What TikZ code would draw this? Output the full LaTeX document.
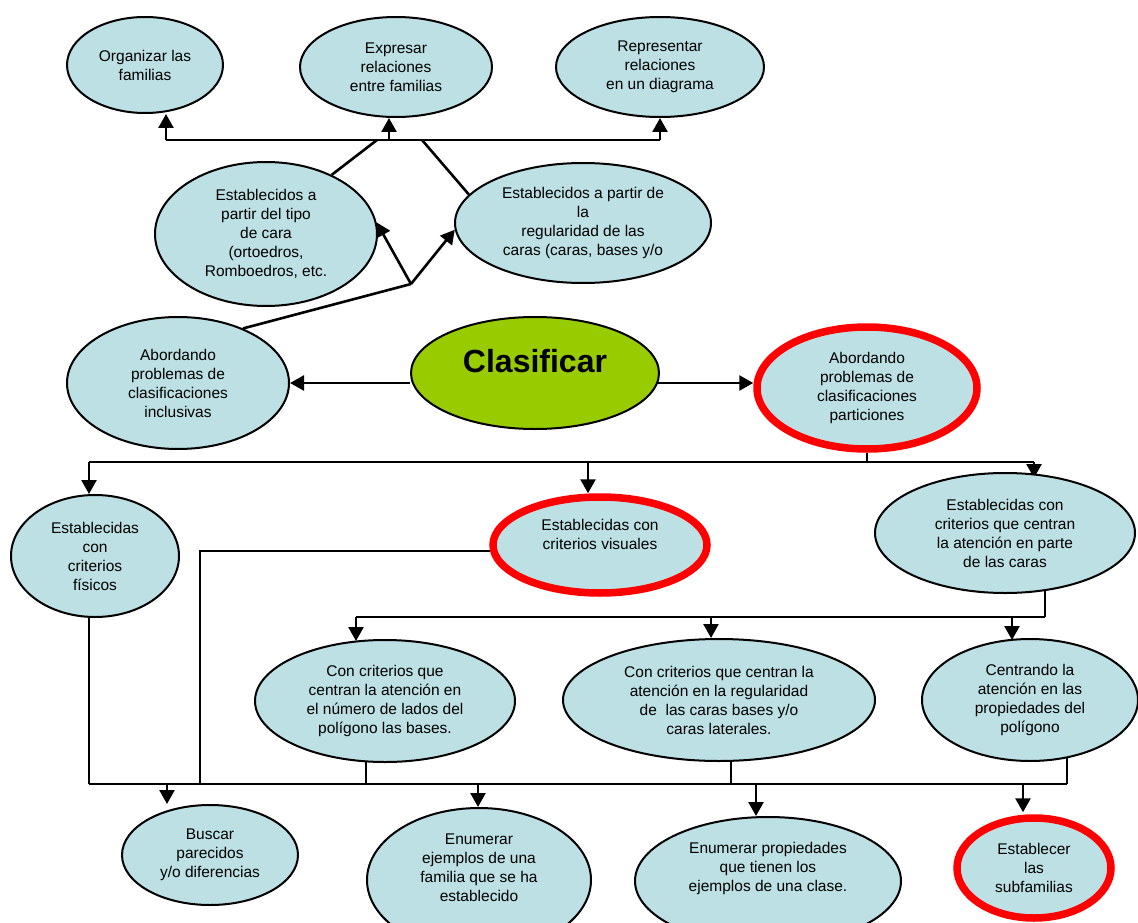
\documentclass[tikz,border=0pt]{standalone}
\usepackage{fontspec}
\setmainfont{Liberation Sans}
\usetikzlibrary{shapes.geometric,arrows.meta,backgrounds}
\definecolor{lblue}{RGB}{188,224,227}
\definecolor{lgreen}{RGB}{153,204,0}
\definecolor{rred}{RGB}{255,0,0}
\newcommand{\upbox}[2]{\raisebox{#1}[0pt][0pt]{\begin{tabular}{@{}c@{}}#2\end{tabular}}}
\begin{document}
\begin{tikzpicture}[x=1pt,y=-1pt,
  oval/.style={ellipse,draw=black,line width=2pt,fill=lblue,inner sep=0pt,align=center,
     font=\fontsize{15.5}{19}\selectfont},
  redoval/.style={oval,draw=rred,line width=7.5pt},
  conn/.style={line width=2.6pt,black},
  arr/.style={conn,-{Triangle[length=14pt,width=15pt]}},
  bigtxt/.style={font=\fontsize{32}{36}\selectfont\bfseries}]
\useasboundingbox (0,0) rectangle (1138,923);
% top row
\node[oval,minimum width=156pt,minimum height=96pt] (org) at (145,65) {Organizar las\\familias};
\node[oval,minimum width=192pt,minimum height=100pt] (exp) at (396,67) {Expresar\\relaciones\\entre familias};
\node[oval,minimum width=208pt,minimum height=100pt] (rep) at (660,67) {Representar\\relaciones\\en un diagrama};
% second row
\node[oval,minimum width=222pt,minimum height=144pt] (tipo) at (266,234) {Establecidos a\\partir del tipo\\de cara\\(ortoedros,\\Romboedros, etc.};
\node[oval,minimum width=256pt,minimum height=120pt] (reg) at (583,223) {Establecidos a partir de\\la\\regularidad de las\\caras (caras, bases y/o};
% middle row
\node[oval,minimum width=222pt,minimum height=132pt] (inc) at (178,383) {Abordando\\problemas de\\clasificaciones\\inclusivas};
\node[oval,fill=lgreen,minimum width=248pt,minimum height=112pt,bigtxt] (clas) at (535,373) {\raisebox{1pt}[0pt][0pt]{Clasificar}};
\node[redoval,minimum width=220pt,minimum height=122pt] (part) at (867,388) {Abordando\\problemas de\\clasificaciones\\particiones};
% third row
\node[oval,minimum width=168pt,minimum height=122pt] (fis) at (95,556) {Establecidas\\con\\criterios\\físicos};
\node[redoval,minimum width=214pt,minimum height=96pt] (vis) at (600,545) {\upbox{5pt}{Establecidas con\\criterios visuales}};
\node[oval,minimum width=260pt,minimum height=120pt] (caras) at (1005,533) {Establecidas con\\criterios que centran\\la atención en parte\\de las caras};
% fourth row
\node[oval,minimum width=260pt,minimum height=122pt] (lados) at (385,701) {Con criterios que\\centran la atención en\\el número de lados del\\polígono las bases.};
\node[oval,minimum width=312pt,minimum height=122pt] (regl) at (719,700) {Con criterios que centran la\\atención en la regularidad\\de\ \ las caras bases y/o\\caras laterales.};
\node[oval,minimum width=216pt,minimum height=122pt] (cent) at (1030,700) {Centrando la\\atención en las\\propiedades del\\polígono};
% bottom row
\node[oval,minimum width=176pt,minimum height=100pt] (busc) at (210,855) {Buscar\\parecidos\\y/o diferencias};
\node[oval,minimum width=224pt,minimum height=144pt] (enum1) at (479,880) {\upbox{7pt}{Enumerar\\ejemplos de una\\familia que se ha\\establecido}};
\node[oval,minimum width=266pt,minimum height=128pt] (enum2) at (768,881) {\upbox{9pt}{Enumerar propiedades\\que tienen los\\ejemplos de una clase.}};
\node[redoval,minimum width=154pt,minimum height=100pt] (estab) at (1034,868) {Establecer\\las\\subfamilias};

% coordinates
\coordinate (t1) at (166,140);
\coordinate (t2) at (389,140);
\coordinate (t3) at (660,140);
\coordinate (ta) at (377,140);
\coordinate (tb) at (422,140);
\coordinate (j) at (411,284);
\coordinate (m0) at (867,462);
\coordinate (m1) at (89,462);
\coordinate (m2) at (588,462);
\coordinate (m3) at (1034,462);
\coordinate (n0) at (1045,617);
\coordinate (n1) at (356,617);
\coordinate (n2) at (711,617);
\coordinate (n3) at (1012,617);
\coordinate (vc) at (200,551);
\coordinate (b0) at (89,784);
\coordinate (bv) at (200,784);
\coordinate (bl) at (366,784);
\coordinate (br) at (731,784);
\coordinate (bc) at (1067,784);
\coordinate (p1) at (167,784);
\coordinate (p2) at (478,784);
\coordinate (p3) at (756,784);
\coordinate (p4) at (1023,784);

\begin{pgfonlayer}{background}
% top bar
\draw[conn] (t1) -- (t3);
\draw[arr] (t1) -- (t1 |- org.south);
\draw[arr] (t2) -- (t2 |- exp.south);
\draw[arr] (t3) -- (t3 |- rep.south);
\draw[conn] (tipo.42) -- (ta);
\draw[conn] (reg.166) -- (tb);
% junction
\draw[conn] (inc.40) -- (j);
\draw[arr] (j) -- (tipo.6);
\draw[arr] (j) -- (reg.183);
% clasificar
\draw[arr] (inc.east -| clas.west) -- (inc.east);
\draw[arr] (clas.center |- 0,383) -- (part.west |- 0,383);
% particiones bar
\draw[conn] (part.south) -- (m0);
\draw[conn] (m1) -- (m3);
\draw[arr] (m1) -- (m1 |- fis.north);
\draw[arr] (m2) -- (m2 |- vis.north);
\draw[arr] (m3) -- ([yshift=-6pt]m3 |- caras.north);
% caras bar
\draw[conn] (caras.center -| n0) -- (n0);
\draw[conn] (n1) -- (n0);
\draw[arr] (n1) -- ([yshift=-2pt]n1 |- lados.north);
\draw[arr] (n2) -- (n2 |- regl.north);
\draw[arr] (n3) -- ([yshift=-2pt]n3 |- cent.north);
% bottom bar
\draw[conn] (fis.center -| b0) -- (b0);
\draw[conn] (vc -| vis.center) -- (vc) -- (bv);
\draw[conn] (lados.center -| bl) -- (bl);
\draw[conn] (regl.center -| br) -- (br);
\draw[conn] (cent.center -| bc) -- (bc);
\draw[conn] (b0) -- (bc);
\draw[arr] (p1) -- (p1 |- busc.north);
\draw[arr] (p2) -- (p2 |- enum1.north);
\draw[arr] (p3) -- (p3 |- enum2.north);
\draw[arr] (p4) -- ([yshift=2pt]p4 |- estab.north);
\end{pgfonlayer}
\end{tikzpicture}
\end{document}
